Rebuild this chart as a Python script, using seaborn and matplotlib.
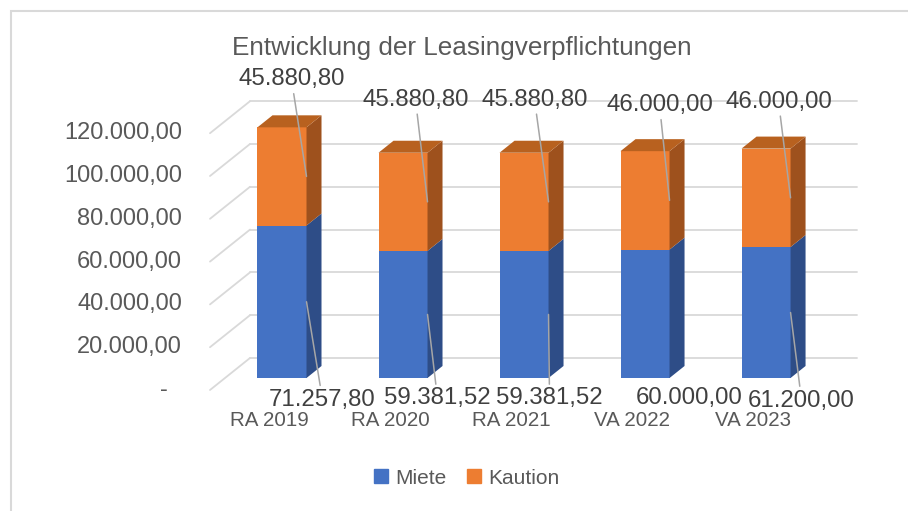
import matplotlib
matplotlib.use("Agg")
import pandas as pd
import matplotlib.pyplot as plt
import seaborn as sns
from matplotlib.patches import Polygon, Patch, Rectangle

# Daten
jahre = ["RA 2019", "RA 2020", "RA 2021", "VA 2022", "VA 2023"]
miete = [71257.80, 59381.52, 59381.52, 60000.00, 61200.00]
kaution = [45880.80, 45880.80, 45880.80, 46000.00, 46000.00]
y_ticks = [0, 20000, 40000, 60000, 80000, 100000, 120000]
titel = "Entwicklung der Leasingverpflichtungen"

# Farben wie in Excel
blau, blau_seite = "#4472C4", "#2E4D87"
orange, orange_seite, orange_deckel = "#ED7D31", "#9E511D", "#B8611F"
grau_gitter = "#D9D9D9"
grau_text = "#595959"
grau_label = "#404040"

# Lage der Datenbeschriftungen (Pixel relativ zum Ankerpunkt)
versatz_kaution = [(-15, 97), (-12, 102), (-14, 102), (-10, 95), (-12, 96)]
versatz_miete = [(16, -98), (10, -84), (1, -84), (20, -84), (11, -88)]
linie_miete = [True, True, True, False, True]


def de(v):
    s = f"{v:,.2f}"
    return s.replace(",", "X").replace(".", ",").replace("X", ".")


df = pd.DataFrame({"jahr": jahre, "miete": miete, "kaution": kaution})
df["summe"] = df["miete"] + df["kaution"]

sns.set_theme(style="white")
plt.rcParams["font.family"] = ["Liberation Sans", "DejaVu Sans"]

W, H = 908, 511
fig = plt.figure(figsize=(W / 100, H / 100), dpi=100)
ax = fig.add_axes([225 / W, 1 - 378 / H, (832 - 225) / W, (378 - 121.2) / H])

breite = 0.405
sns.barplot(data=df, x="jahr", y="summe", color=orange, width=breite, saturation=1,
            errorbar=None, ax=ax, zorder=3, linewidth=0)
sns.barplot(data=df, x="jahr", y="miete", color=blau, width=breite, saturation=1,
            errorbar=None, ax=ax, zorder=3, linewidth=0)
ax.set_xlim(-0.471, 4.545)
ax.set_ylim(0, 120000)
ax.axis("off")

x0, x1 = ax.get_xlim()
y0, y1 = ax.get_ylim()
pos = ax.get_position()
px_x = pos.width * W / (x1 - x0)
px_y = pos.height * H / (y1 - y0)


def px(dx, dy):
    return dx / px_x, dy / px_y


# Gitter: Rueckwand + linke Seitenwand
bx, by = px(25, 20)
fx, fy = px(-15, -12)
for t in y_ticks:
    ax.plot([x0 + bx, x1 + bx], [t + by, t + by], color=grau_gitter, lw=1.3, zorder=1, clip_on=False)
    ax.plot([x0 + fx, x0 + bx], [t + fy, t + by], color=grau_gitter, lw=1.3, zorder=1, clip_on=False)
    lab = de(t) if t else "-"
    extra = 14 if t == 0 else 0
    ax.annotate(lab, (x0, t), xytext=(-43 - extra, -12), textcoords="offset pixels",
                ha="right", va="center", fontsize=17, color=grau_text)

# 3D-Seiten der Saeulen
sx, sy = px(15, 12)
for bar_o, bar_b in zip(ax.containers[0], ax.containers[1]):
    xl = bar_o.get_x()
    xr = xl + bar_o.get_width()
    top = bar_o.get_height()
    mid = bar_b.get_height()
    ax.add_patch(Polygon([(xr, 0), (xr + sx, sy), (xr + sx, mid + sy), (xr, mid)],
                         color=blau_seite, lw=0, zorder=3, clip_on=False))
    ax.add_patch(Polygon([(xr, mid), (xr + sx, mid + sy), (xr + sx, top + sy), (xr, top)],
                         color=orange_seite, lw=0, zorder=3, clip_on=False))
    ax.add_patch(Polygon([(xl, top), (xr, top), (xr + sx, top + sy), (xl + sx, top + sy)],
                         color=orange_deckel, lw=0, zorder=3, clip_on=False))

# Kategorien
for i, j in enumerate(jahre):
    ax.annotate(j, (i, 0), xytext=(-13, -42), textcoords="offset pixels",
                ha="center", va="center", fontsize=14.8, color=grau_text)

# Datenbeschriftungen
linie = dict(arrowstyle="-", color="#A6A6A6", lw=1.1, shrinkA=0, shrinkB=0)
for i, bar in enumerate(ax.containers[0]):
    xr = bar.get_x() + bar.get_width()
    ax.annotate(de(kaution[i]), (xr, miete[i] + kaution[i] / 2), xytext=versatz_kaution[i],
                textcoords="offset pixels", ha="center", va="center", fontsize=17.3,
                color=grau_label, arrowprops=linie, zorder=5, annotation_clip=False)
    ax.annotate(de(miete[i]), (xr, miete[i] / 2), xytext=versatz_miete[i],
                textcoords="offset pixels", ha="center", va="center", fontsize=17.3,
                color=grau_label, arrowprops=linie if linie_miete[i] else None,
                zorder=5, annotation_clip=False)

fig.text(462 / W, 1 - 55 / H, titel, ha="center", va="baseline", fontsize=18.8, color=grau_text)

handles = [Patch(color=blau, label="Miete"), Patch(color=orange, label="Kaution")]
fig.legend(handles=handles, loc="center", bbox_to_anchor=(467 / W, 1 - 478 / H), ncol=2,
           frameon=False, fontsize=15, handlelength=0.65, handleheight=0.65,
           handletextpad=0.35, columnspacing=1.0, labelcolor=grau_text)

# Rahmen
fig.add_artist(Rectangle((10.5 / W, -0.1), 1.2, 1.1 - 10.5 / H, transform=fig.transFigure,
                         fill=False, edgecolor=grau_gitter, lw=1.5))

fig.savefig("out.png", dpi=100)
